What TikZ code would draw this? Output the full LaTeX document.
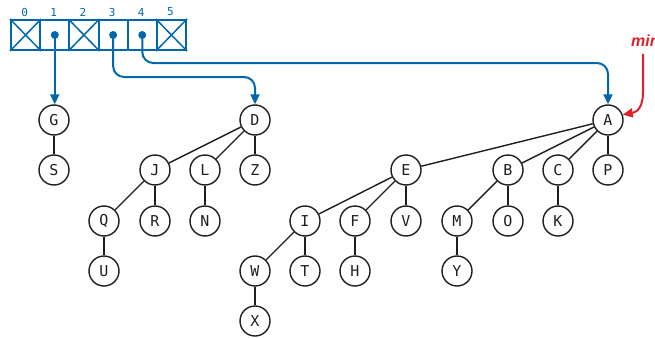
\documentclass[tikz,border=0pt]{standalone}
\usepackage{fontspec}
\setmainfont{DejaVu Sans Mono}
\newfontfamily\tagfont{Liberation Sans}
\usetikzlibrary{arrows.meta}
\definecolor{ptrblue}{RGB}{0,104,170}
\definecolor{minred}{RGB}{220,35,45}
\definecolor{ink}{RGB}{30,30,30}
\begin{document}
\begin{tikzpicture}[x=1pt,y=-1pt,
  key/.style={circle,draw=ink,line width=1.4pt,minimum size=30pt,inner sep=0pt,
    text=ink,font=\fontsize{15}{15}\selectfont},
  edge/.style={draw=ink,line width=1.4pt},
  cell/.style={draw=ptrblue,line width=2pt,minimum width=29.17pt,minimum height=30pt,
    inner sep=0pt,anchor=north west},
  idx/.style={text=ptrblue,font=\fontsize{11}{11}\selectfont},
  cross/.style={draw=ptrblue,line width=1.5pt},
  ptr/.style={draw=ptrblue,line width=2pt,-{Triangle[length=10pt,width=9pt]}},
  minptr/.style={draw=minred,line width=2pt,-{Triangle[length=10pt,width=9pt]}}]
\useasboundingbox (0,0) rectangle (655,337);

% array of root pointers
\foreach \i in {0,...,5}{
  \node[cell] (c\i) at ({10+29.17*\i},19) {};
  \node[idx] (n\i) at ({10+29.17*(\i+0.5)},12) {\i};
}
\foreach \i in {0,2,5}{
  \draw[cross] (c\i.north west) -- (c\i.south east) (c\i.north east) -- (c\i.south west);
}
\foreach \i in {1,3,4}{
  \fill[ptrblue] (c\i.center) circle (4pt);
}

% trees
\node[key] (G) at (54,120) {G};
\node[key] (S) at (54,170) {S};

\node[key] (D) at (255,120) {D};
\node[key] (J) at (155,170) {J};
\node[key] (L) at (205,170) {L};
\node[key] (Z) at (255,170) {Z};
\node[key] (Q) at (104,221) {Q};
\node[key] (R) at (155,221) {R};
\node[key] (N) at (205,221) {N};
\node[key] (U) at (104,271) {U};

\node[key] (A) at (608,120) {A};
\node[key] (E) at (406,170) {E};
\node[key] (B) at (508,170) {B};
\node[key] (C) at (558,170) {C};
\node[key] (P) at (608,170) {P};
\node[key] (I) at (305,221) {I};
\node[key] (F) at (355,221) {F};
\node[key] (V) at (406,221) {V};
\node[key] (M) at (457,221) {M};
\node[key] (O) at (508,221) {O};
\node[key] (K) at (558,221) {K};
\node[key] (W) at (255,271) {W};
\node[key] (T) at (305,271) {T};
\node[key] (H) at (355,271) {H};
\node[key] (Y) at (457,271) {Y};
\node[key] (X) at (255,321) {X};

\foreach \a/\b in {G/S,D/J,D/L,D/Z,J/Q,J/R,L/N,Q/U,
  A/E,A/B,A/C,A/P,E/I,E/F,E/V,B/M,B/O,C/K,I/W,I/T,F/H,M/Y,W/X}{
  \draw[edge] (\a) -- (\b);
}

% pointers from the array to the roots
\draw[ptr] (c1.center) -- (c1.center |- G.north);
\draw[ptr,rounded corners=11pt] (c3.center) -- (c3.center |- 0,77) -- (D.north |- 0,77) -- (D.north);
\draw[ptr,rounded corners=11pt] (c4.center) -- (c4.center |- 0,63) -- (A.north |- 0,63) -- (A.north);

% min marker
\node[anchor=base west,inner sep=0pt,text=minred,font=\tagfont\bfseries\itshape\fontsize{16}{16}\selectfont]
  (minlab) at (631,46) {min};
\coordinate (minbend) at (643,92);
\draw[minptr] (643,54) -- (minbend) .. controls (643,106) and (638,112) .. (A.20);
\end{tikzpicture}
\end{document}
